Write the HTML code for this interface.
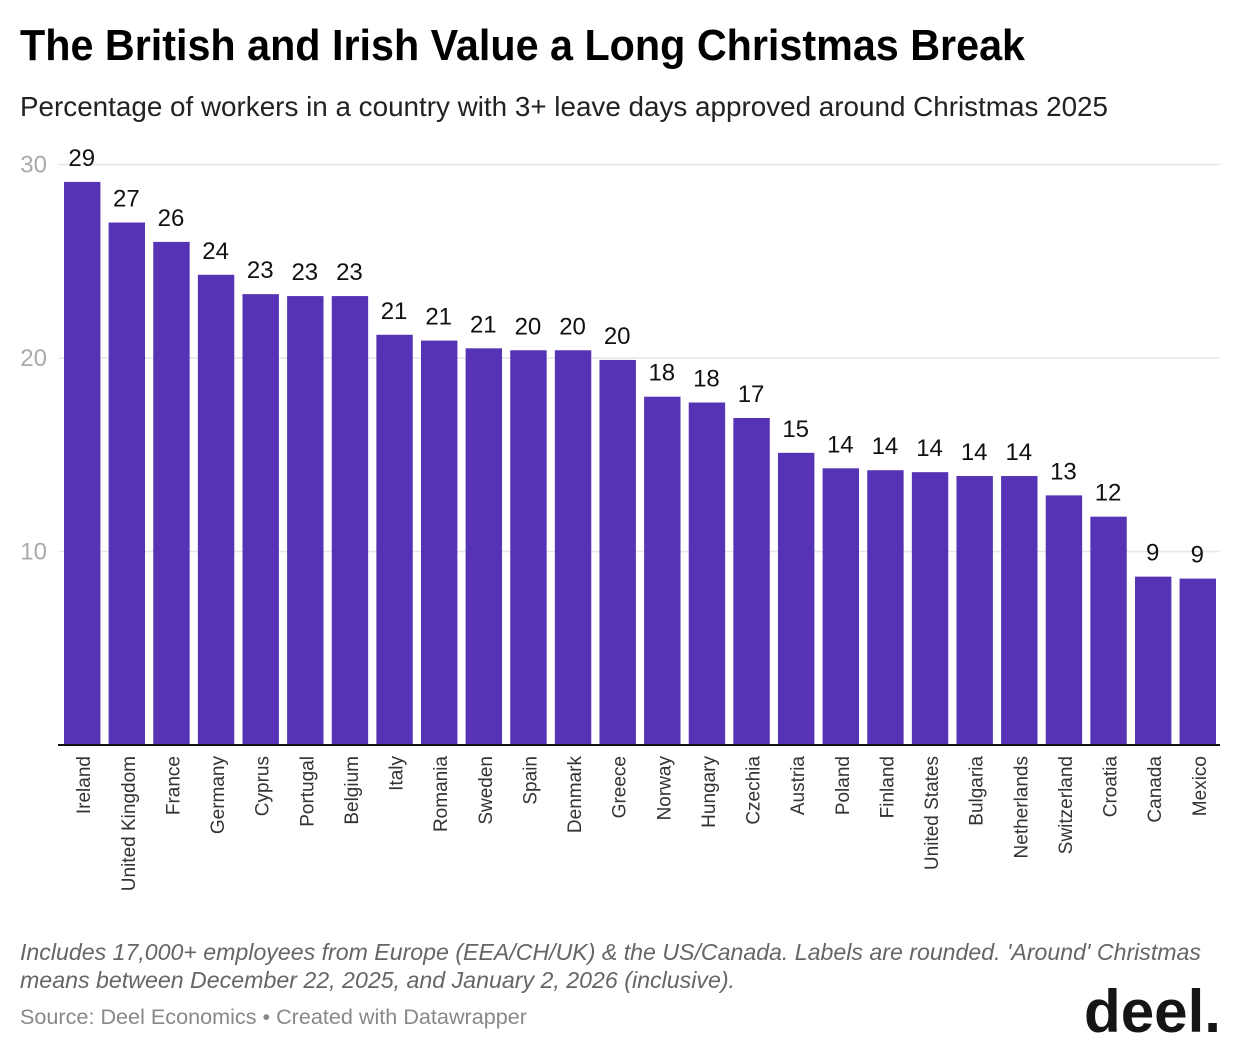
<!DOCTYPE html>
<html>
<head>
<meta charset="utf-8">
<style>
html,body{margin:0;padding:0;background:#fff;}
svg{display:block;font-family:"Liberation Sans",sans-serif;}
</style>
</head>
<body>
<svg id="chart" xmlns="http://www.w3.org/2000/svg" width="1240" height="1050" viewBox="0 0 1240 1050">
  <text x="20" y="60" font-size="44" font-weight="700" fill="#000" textLength="1005" lengthAdjust="spacingAndGlyphs">The British and Irish Value a Long Christmas Break</text>
  <text x="20" y="116" font-size="27.5" fill="#222" textLength="1088" lengthAdjust="spacingAndGlyphs">Percentage of workers in a country with 3+ leave days approved around Christmas 2025</text>
  <g id="grid"></g>
  <g id="bars"></g>
  <g id="values"></g>
  <g id="cats"></g>
  <line x1="58" x2="1220" y1="745" y2="745" stroke="#111" stroke-width="2"></line>
  <text x="20" y="960" font-size="23.5" font-style="italic" fill="#666" textLength="1181" lengthAdjust="spacingAndGlyphs">Includes 17,000+ employees from Europe (EEA/CH/UK) &amp; the US/Canada. Labels are rounded. 'Around' Christmas</text>
  <text x="20" y="988" font-size="23.5" font-style="italic" fill="#666" textLength="715" lengthAdjust="spacingAndGlyphs">means between December 22, 2025, and January 2, 2026 (inclusive).</text>
  <text x="20" y="1024" font-size="21.5" fill="#888" textLength="507" lengthAdjust="spacingAndGlyphs">Source: Deel Economics • Created with Datawrapper</text>
  <text x="1084" y="1032" font-size="60" font-weight="700" fill="#151515" textLength="137" lengthAdjust="spacingAndGlyphs">deel.</text>
</svg>
<script>
const categories = ["Ireland","United Kingdom","France","Germany","Cyprus","Portugal","Belgium","Italy","Romania","Sweden","Spain","Denmark","Greece","Norway","Hungary","Czechia","Austria","Poland","Finland","United States","Bulgaria","Netherlands","Switzerland","Croatia","Canada","Mexico"];
const seriesValues = [29.1,27.0,26.0,24.3,23.3,23.2,23.2,21.2,20.9,20.5,20.4,20.4,19.9,18.0,17.7,16.9,15.1,14.3,14.2,14.1,13.9,13.9,12.9,11.8,8.7,8.6];
const yTicks = [10,20,30];

const NS = "http://www.w3.org/2000/svg";
const plotLeft = 64, plotRight = 1216, plotBottom = 745, pxPer10 = 193.5, barWidth = 36.4;

function yScale(v) {
  return plotBottom - v * pxPer10 / 10;
}
function xScale(i) {
  return plotLeft + i * (plotRight - plotLeft - barWidth) / (categories.length - 1);
}
function make(tag, attrs, parent, text) {
  const el = document.createElementNS(NS, tag);
  for (const k in attrs) el.setAttribute(k, attrs[k]);
  if (text !== undefined) el.textContent = text;
  parent.appendChild(el);
  return el;
}

const gridG = document.getElementById("grid");
const barsG = document.getElementById("bars");
const valuesG = document.getElementById("values");
const catsG = document.getElementById("cats");

yTicks.forEach(function (t) {
  const y = yScale(t);
  const line = make("line", {x1: 59, x2: 1220, y1: y, y2: y, stroke: "#e6e6e6", "stroke-width": 1.6}, gridG);
  
  
  const lab = make("text", {x: 47, y: y + 8, "text-anchor": "end", "font-size": 24, fill: "#aaa"}, gridG, String(t));
  
  
});

categories.forEach(function (name, i) {
  const v = seriesValues[i];
  const x = xScale(i);
  const cx = x + barWidth / 2;
  const top = yScale(v);
  const bar = make("rect", {x: x, y: top, width: barWidth, height: plotBottom - top, fill: "#5633b5"}, barsG);
  
  
  const val = make("text", {x: cx - 0.5, y: top - 16, "text-anchor": "middle", "font-size": 24, fill: "#111"}, valuesG, String(Math.round(v)));
  
  
  const bx = cx + 8;
  const cat = make("text", {x: bx, y: 756, transform: "rotate(-90 " + bx + " 756)", "text-anchor": "end", "font-size": 19, fill: "#333"}, catsG, name);
  
  
});
</script>
</body>
</html>
